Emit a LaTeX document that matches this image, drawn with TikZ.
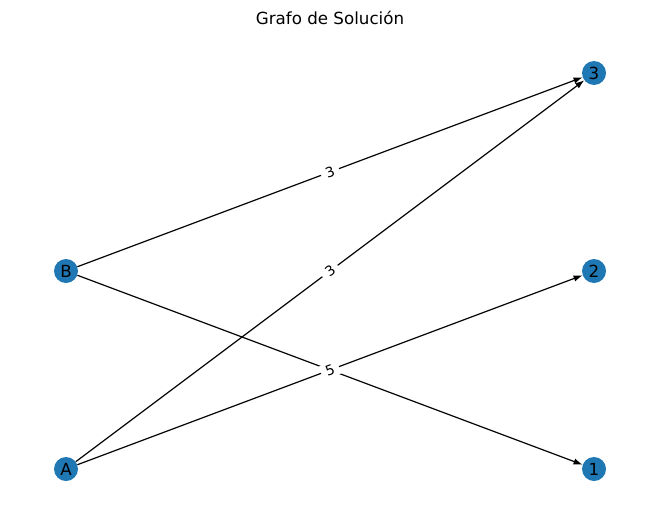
\documentclass[tikz,border=0pt]{standalone}
\usepackage{fontspec}
\setmainfont{DejaVu Sans}
\usetikzlibrary{arrows.meta}
\definecolor{nodeblue}{HTML}{1F77B4}

\begin{document}
\begin{tikzpicture}[x=1pt,y=-1pt,
  vertex/.style={circle,fill=nodeblue,minimum size=24pt,inner sep=0pt,font=\fontsize{16.7}{17}\selectfont},
  arc/.style={-{Latex[length=9pt,width=6.5pt]},line width=1.2pt},
  weight/.style={sloped,fill=white,inner xsep=5pt,inner ysep=2pt,font=\fontsize{13.9}{14}\selectfont}]
  \useasboundingbox (0,0) rectangle (660,522);
  \node[font=\fontsize{16.7}{17}\selectfont] (title) at (330,18) {Grafo de Solución};
  \node[vertex] (B) at (66,271) {B};
  \node[vertex] (A) at (66,469) {A};
  \node[vertex] (n3) at (594,73) {3};
  \node[vertex] (n2) at (594,271) {2};
  \node[vertex] (n1) at (594,469) {1};
  \draw[arc] (B) -- node[weight] {3} (n3);
  \draw[arc] (B) -- node[weight] {5} (n1);
  \draw[arc] (A) -- node[weight] {3} (n3);
  \draw[arc] (A) -- node[weight] {5} (n2);
\end{tikzpicture}
\end{document}
